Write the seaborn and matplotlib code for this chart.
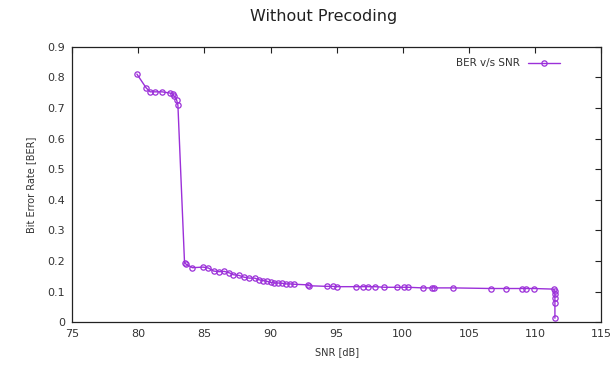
import matplotlib
matplotlib.use("Agg")
import matplotlib.pyplot as plt
import seaborn as sns
import pandas as pd

snr_db = [79.9, 80.6, 80.9, 81.3, 81.8, 82.4, 82.6, 82.7, 82.9, 83.0,
          83.5, 83.6, 84.1, 84.9, 85.3, 85.7, 86.1, 86.5, 86.9, 87.2,
          87.6, 88.0, 88.4, 88.8, 89.1, 89.4, 89.7, 90.0, 90.3, 90.6,
          90.9, 91.2, 91.5, 91.75, 92.8, 92.9, 94.3, 94.7, 95.0, 96.5,
          97.0, 97.4, 97.9, 98.6, 99.6, 100.1, 100.4, 101.5, 102.2, 102.35,
          103.8, 106.65, 107.8, 109.0, 109.3, 109.9, 111.4, 111.5, 111.5, 111.5,
          111.5, 111.5]
ber = [0.811, 0.766, 0.753, 0.753, 0.753, 0.749, 0.746, 0.740, 0.727, 0.710,
       0.195, 0.190, 0.178, 0.180, 0.177, 0.167, 0.165, 0.166, 0.161, 0.155,
       0.153, 0.147, 0.144, 0.144, 0.139, 0.136, 0.134, 0.130, 0.128, 0.128,
       0.127, 0.125, 0.125, 0.124, 0.122, 0.119, 0.117, 0.117, 0.116, 0.116,
       0.116, 0.116, 0.116, 0.114, 0.114, 0.114, 0.114, 0.112, 0.112, 0.112,
       0.112, 0.110, 0.110, 0.110, 0.110, 0.110, 0.108, 0.103, 0.092, 0.080,
       0.064, 0.013]

series_name = "BER v/s SNR"
title = "Without Precoding"
x_label = "SNR [dB]"
y_label = "Bit Error Rate [BER]"
x_ticks = [75, 80, 85, 90, 95, 100, 105, 110, 115]
y_ticks = [0, 0.1, 0.2, 0.3, 0.4, 0.5, 0.6, 0.7, 0.8, 0.9]

df = pd.DataFrame({"snr": snr_db, "ber": ber, "series": series_name})

sns.set_style("white")
plt.rcParams["font.family"] = ["DejaVu Sans"]

color = "#9B30D9"
text_color = "#333333"

fig = plt.figure(figsize=(6.16, 3.72), dpi=100)
ax = fig.add_axes([0.117, 0.134, 0.859, 0.740])

sns.lineplot(data=df, x="snr", y="ber", hue="series", palette=[color],
             estimator=None, sort=False, marker="o", markersize=3.8,
             markerfacecolor="none", markeredgecolor=color, markeredgewidth=0.9,
             linewidth=1.0, ax=ax)

ax.set_xlim(75, 115)
ax.set_ylim(0, 0.9)
ax.set_xticks(x_ticks)
ax.set_xticklabels([str(t) for t in x_ticks])
ax.set_yticks(y_ticks)
ax.set_yticklabels(["0"] + [f"{t:.1f}" for t in y_ticks[1:]])
ax.tick_params(direction="in", length=4, width=0.8, top=True, right=True,
               labelsize=8, colors="#222222", labelcolor=text_color, pad=5)
for s in ax.spines.values():
    s.set_color("#222222")
    s.set_linewidth(0.9)

ax.set_xlabel(x_label, fontsize=7, color=text_color, labelpad=6)
ax.set_ylabel(y_label, fontsize=7, color=text_color, labelpad=8)
fig.suptitle(title, fontsize=11.5, color="#222222", x=0.525, y=0.975)

leg = ax.legend(loc="upper right", frameon=False, markerfirst=False,
                fontsize=7.5, handlelength=3.0,
                bbox_to_anchor=(0.935, 0.985), borderaxespad=0.3)
for t in leg.get_texts():
    t.set_color(text_color)

fig.savefig("out.png", dpi=100)
